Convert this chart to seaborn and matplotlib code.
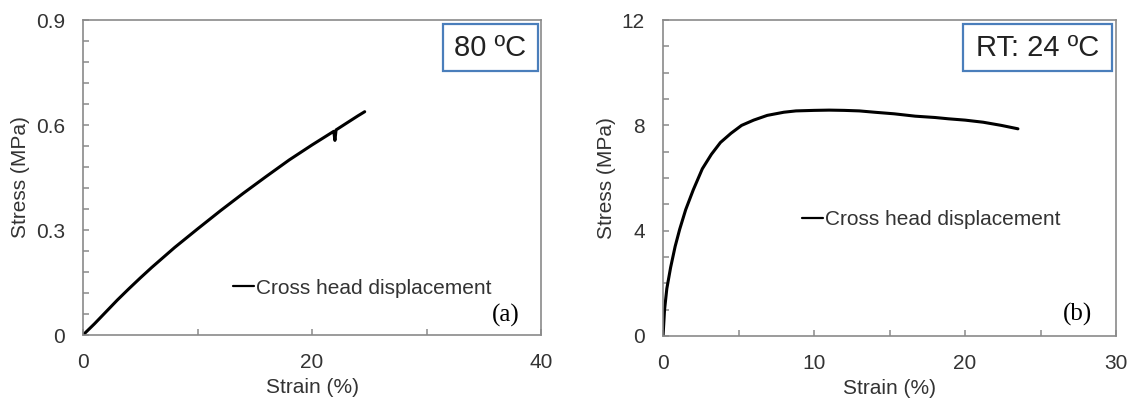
import numpy as np
import pandas as pd
import matplotlib
matplotlib.use("Agg")
import matplotlib.pyplot as plt
import seaborn as sns
from matplotlib.patches import Rectangle
from matplotlib.ticker import MultipleLocator

# (a) 80 C test
strain_80 = [0, 1, 2, 3, 4, 5, 6, 8, 10, 12, 14, 16, 18, 20, 21.9, 22.0, 22.1, 23, 24, 24.6]
stress_80 = [0, 0.032, 0.066, 0.1, 0.132, 0.163, 0.193, 0.25, 0.303, 0.355, 0.405, 0.453,
             0.5, 0.543, 0.582, 0.556, 0.586, 0.605, 0.626, 0.638]

# (b) room temperature test
strain_rt = [0, 0.1, 0.25, 0.5, 0.8, 1.1, 1.5, 2.0, 2.6, 3.2, 3.8, 4.5, 5.2, 6.0, 6.9, 8.0,
             8.8, 10.0, 11.0, 12.0, 13.0, 14.0, 15.3, 16.7, 18.0, 18.9, 20.0, 21.2, 22.4, 23.5]
stress_rt = [0, 1.0, 1.8, 2.6, 3.4, 4.05, 4.8, 5.55, 6.35, 6.9, 7.35, 7.7, 8.0, 8.2, 8.38, 8.5,
             8.55, 8.57, 8.58, 8.57, 8.55, 8.5, 8.44, 8.35, 8.3, 8.25, 8.2, 8.12, 8.0, 7.87]

sns.set_style("ticks")
plt.rcParams['font.family'] = ['Liberation Sans', 'DejaVu Sans']

fig = plt.figure(figsize=(11.34, 4.05), dpi=100)
ax1 = fig.add_axes([0.0732, 0.1728, 0.4039, 0.7778])
ax2 = fig.add_axes([0.5847, 0.1704, 0.3995, 0.7800])

grey = '#8a8a8a'
txt = '#333333'
blue = '#4a7ebb'

panels = [
    (ax1, strain_80, stress_80, (0, 40), (0, 0.9), 20, 10, 0.3, 0.06, '80 ºC',
     (0.786, 0.9934), (0.3275, 0.149), '(a)', (0.9236, 0.063)),
    (ax2, strain_rt, stress_rt, (0, 30), (0, 12), 10, 5, 4, 1, 'RT: 24 ºC',
     (0.662, 0.991), (0.307, 0.369), '(b)', (0.914, 0.069)),
]

for (ax, x, y, xlim, ylim, xmaj, xmin, ymaj, ymin, label, box_x, leg_pos, tag, tag_pos) in panels:
    df = pd.DataFrame({'Strain': x, 'Stress': y})
    sns.lineplot(data=df, x='Strain', y='Stress', ax=ax, color='black', lw=2.2,
                 sort=False, estimator=None, label='Cross head displacement')
    ax.set_xlim(*xlim)
    ax.set_ylim(*ylim)
    ax.xaxis.set_major_locator(MultipleLocator(xmaj))
    ax.xaxis.set_minor_locator(MultipleLocator(xmin))
    ax.yaxis.set_major_locator(MultipleLocator(ymaj))
    ax.yaxis.set_minor_locator(MultipleLocator(ymin))
    ax.yaxis.set_major_formatter(matplotlib.ticker.FuncFormatter(lambda v, p: f'{v:g}'))
    ax.tick_params(which='both', direction='in', length=4, width=1.1, color=grey,
                   labelsize=15, labelcolor=txt, pad=13)
    for s in ax.spines.values():
        s.set_visible(True)
        s.set_color(grey)
        s.set_linewidth(1.2)
    ax.set_xlabel('Strain (%)', fontsize=15, color=txt, labelpad=4)
    ax.set_ylabel('Stress (MPa)', fontsize=15, color=txt, labelpad=4)

    leg = ax.legend(loc='center left', bbox_to_anchor=leg_pos, frameon=False,
                    handlelength=1.0, handletextpad=0.1, borderpad=0, borderaxespad=0,
                    fontsize=15)
    for t in leg.get_texts():
        t.set_color(txt)
    for h in leg.get_lines():
        h.set_linewidth(1.6)

    ax.add_patch(Rectangle((box_x[0], 0.838), box_x[1] - box_x[0], 0.987 - 0.838,
                           transform=ax.transAxes, fill=False, edgecolor=blue, lw=1.6,
                           clip_on=False, zorder=5))
    ax.text((box_x[0] + box_x[1]) / 2, 0.912, label, transform=ax.transAxes,
            ha='center', va='center', fontsize=21, color='#222222')
    ax.text(tag_pos[0], tag_pos[1], tag, transform=ax.transAxes, ha='center', va='center',
            fontsize=18, family='Liberation Serif', color='black')

fig.savefig('out.png', dpi=100)
